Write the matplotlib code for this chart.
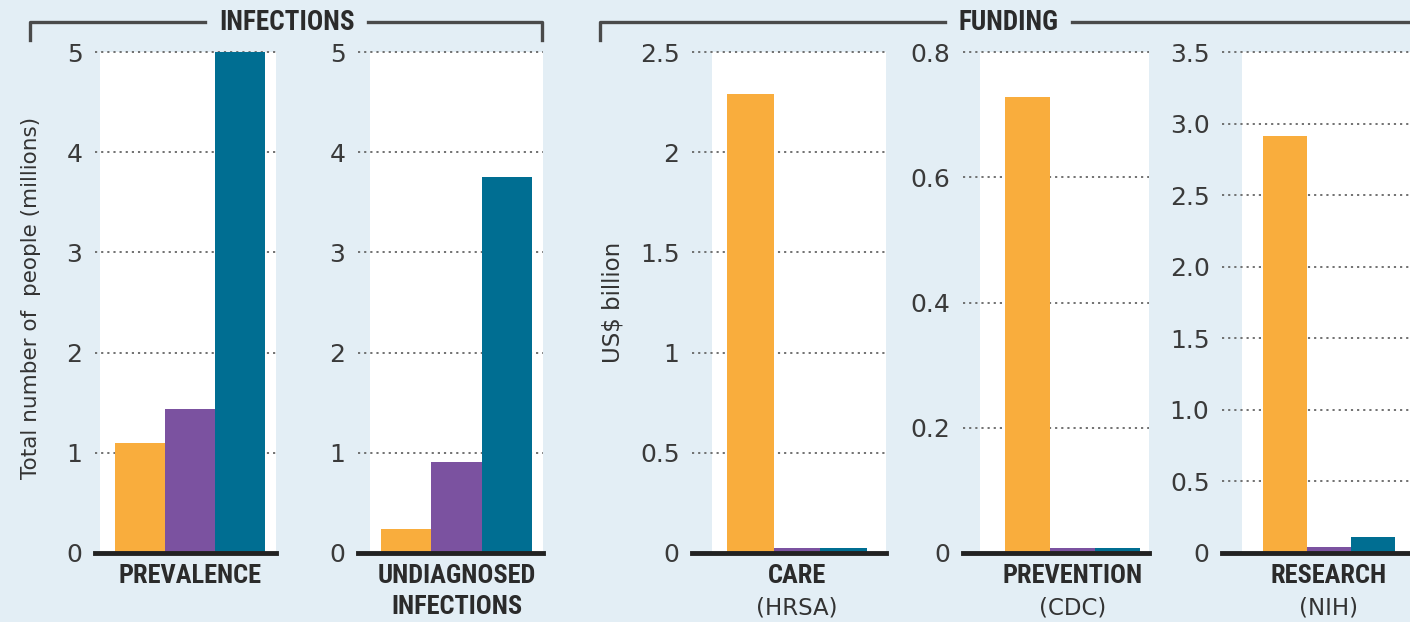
import matplotlib
matplotlib.use("Agg")
import matplotlib.pyplot as plt
from matplotlib import font_manager
from matplotlib.patches import Rectangle
from matplotlib.lines import Line2D
from matplotlib.transforms import blended_transform_factory

# data
categories = ["PREVALENCE", "UNDIAGNOSED\nINFECTIONS", "CARE", "PREVENTION", "RESEARCH"]
sublabels = ["", "", "(HRSA)", "(CDC)", "(NIH)"]
orange_vals = [1.10, 0.24, 2.29, 0.728, 2.91]
purple_vals = [1.44, 0.91, 0.025, 0.008, 0.04]
teal_vals = [5.0, 3.75, 0.025, 0.008, 0.11]
y_tops = [5, 5, 2.5, 0.8, 3.5]
y_ticks = [
    [0, 1, 2, 3, 4, 5],
    [0, 1, 2, 3, 4, 5],
    [0, 0.5, 1, 1.5, 2, 2.5],
    [0, 0.2, 0.4, 0.6, 0.8],
    [0, 0.5, 1.0, 1.5, 2.0, 2.5, 3.0, 3.5],
]
tick_fmt = ["{:g}", "{:g}", "{:g}", "{:g}", "{:.1f}"]
group_titles = ["INFECTIONS", "FUNDING"]
ylabels = ["Total number of  people (millions)", "US$ billion"]

ORANGE = "#f9ad3d"
PURPLE = "#7b52a0"
TEAL = "#006e92"
BG = "#e3eef5"
DARK = "#2b2b2b"

W, H = 1410, 622


def fx(px):
    return px / W


def fy(py):
    return 1 - py / H


def pick_condensed():
    for name in ["Roboto Condensed", "Liberation Sans Narrow", "DejaVu Sans"]:
        try:
            path = font_manager.findfont(
                font_manager.FontProperties(family=name, weight="bold", stretch="condensed"),
                fallback_to_default=False)
        except ValueError:
            continue
        low = path.lower()
        if "narrow" in low or "condensed" in low:
            return font_manager.FontProperties(fname=path), True
    return font_manager.FontProperties(family="Liberation Sans", weight="bold"), False


cond_fp, is_narrow = pick_condensed()
cat_size = 19 if is_narrow else 14
title_size = 19.5 if is_narrow else 14.5

plt.rcParams["font.family"] = ["DejaVu Sans"]

fig = plt.figure(figsize=(W / 100, H / 100), dpi=100, facecolor=BG)

# layout in pixels
ax_px = [(95, 276), (358, 543), (692, 886), (963, 1149), (1222, 1410)]
white_px = [100, 370, 712, 980, 1242]
xlims = [(-0.9, 2.72), (-0.957, 2.72), (-1.25, 2.907), (-1.433, 2.7), (-1.43, 2.84)]
top_px, bot_px = 52, 553

for i in range(5):
    l, r = ax_px[i]
    ax = fig.add_axes([fx(l), fy(bot_px), (r - l) / W, (bot_px - top_px) / H])
    ax.set_facecolor("none")
    ax.add_patch(Rectangle(((white_px[i] - l) / (r - l), 0), 1, 1, transform=ax.transAxes,
                           facecolor="white", edgecolor="none", zorder=0))
    vals = [orange_vals[i], purple_vals[i], teal_vals[i]]
    ax.bar([0, 1, 2], vals, width=1.0, color=[ORANGE, PURPLE, TEAL], zorder=2)
    ax.set_xlim(*xlims[i])
    ax.set_ylim(0, y_tops[i])
    ax.set_xticks([])
    ax.set_yticks(y_ticks[i])
    ax.set_yticklabels(["0" if t == 0 else tick_fmt[i].format(t) for t in y_ticks[i]])
    ax.tick_params(axis="y", length=0, pad=9, labelsize=18, labelcolor="#3a3a3a")
    for s in ax.spines.values():
        s.set_visible(False)
    ax.set_axisbelow(True)
    ax.yaxis.grid(True, color="#666666", linestyle=(0, (1.2, 2.2)), linewidth=1.3)
    for gl in ax.get_ygridlines():
        gl.set_clip_on(False)
    ax.axhline(0, color="#222222", linewidth=3.5, clip_on=False, zorder=3)

    trans = blended_transform_factory(ax.transData, fig.transFigure)
    lines = categories[i].split("\n")
    for k, line in enumerate(lines):
        ax.text(1, fy(576 + 31 * k), line, transform=trans, ha="center", va="center",
                fontproperties=cond_fp, fontsize=cat_size, color=DARK)
    if sublabels[i]:
        ax.text(1, fy(608), sublabels[i], transform=trans, ha="center", va="center",
                fontsize=16.5, color="#333333")

# y labels
fig.text(fx(31), fy(298), ylabels[0], rotation=90, ha="center", va="center",
         fontsize=15.5, color="#333333")
fig.text(fx(613), fy(302), ylabels[1], rotation=90, ha="center", va="center",
         fontsize=16.5, color="#333333")

# group brackets
bracket_kw = dict(color="#4a4a4a", linewidth=2.4, transform=fig.transFigure)
fig.add_artist(Line2D([fx(30), fx(30), fx(205)], [fy(40), fy(22), fy(22)], **bracket_kw))
fig.add_artist(Line2D([fx(368), fx(542), fx(542)], [fy(22), fy(22), fy(40)], **bracket_kw))
fig.add_artist(Line2D([fx(600), fx(600), fx(945)], [fy(40), fy(22), fy(22)], **bracket_kw))
fig.add_artist(Line2D([fx(1072), fx(1410)], [fy(22), fy(22)], **bracket_kw))
fig.text(fx(287), fy(22), group_titles[0], ha="center", va="center",
         fontproperties=cond_fp, fontsize=title_size, color=DARK)
fig.text(fx(1008), fy(22), group_titles[1], ha="center", va="center",
         fontproperties=cond_fp, fontsize=title_size, color=DARK)

fig.savefig("out.png", dpi=100, facecolor=BG)
